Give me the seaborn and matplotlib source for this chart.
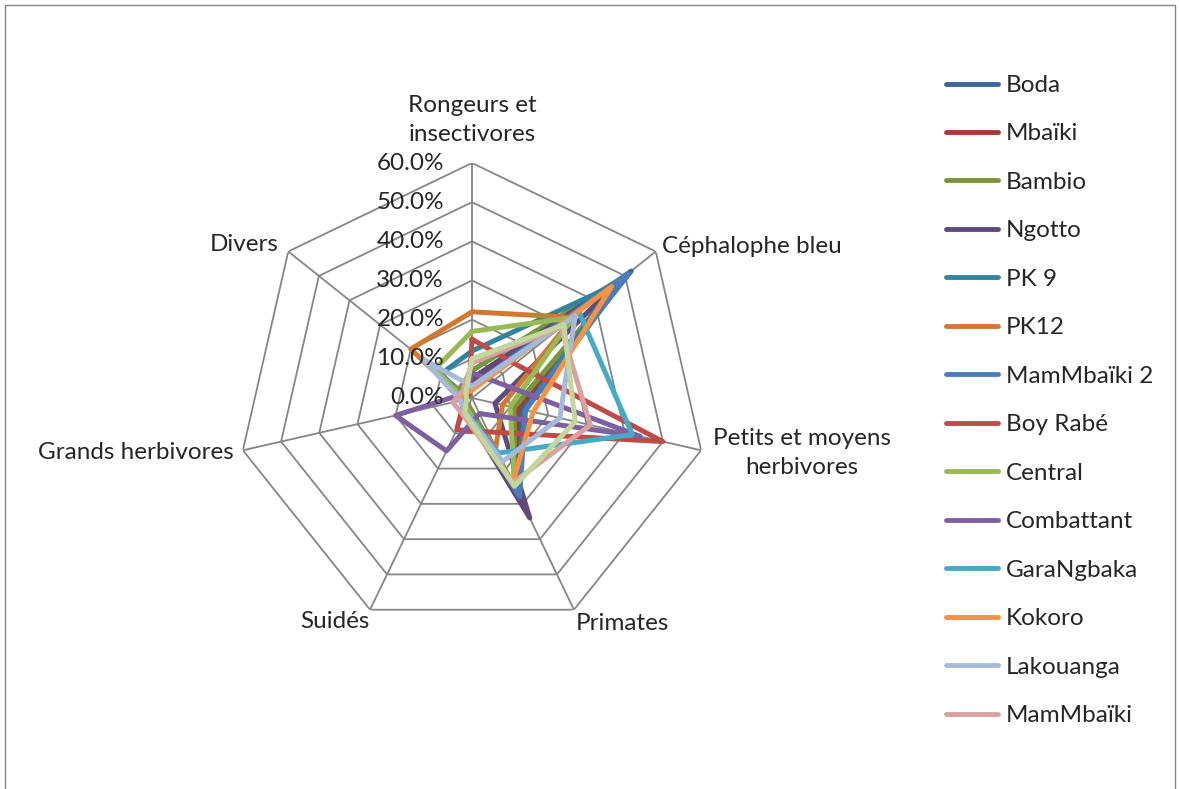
import numpy as np
import pandas as pd
import seaborn as sns
import matplotlib.pyplot as plt
from matplotlib.lines import Line2D
from matplotlib.patches import Rectangle
from matplotlib.transforms import offset_copy

# Radar chart data (share of each prey group per site, in %)
categories = ['Rongeurs et\ninsectivores', 'Céphalophe bleu', 'Petits et moyens\nherbivores',
              'Primates', 'Suidés', 'Grands herbivores', 'Divers']
sites = ['Boda', 'Mbaïki', 'Bambio', 'Ngotto', 'PK 9', 'PK12', 'MamMbaïki 2', 'Boy Rabé',
         'Central', 'Combattant', 'GaraNgbaka', 'Kokoro', 'Lakouanga', 'MamMbaïki', 'Autre']
boda = [3, 52, 13, 28, 3, 2, 2]
mbaiki = [4, 48, 12, 25, 3, 2, 3]
bambio = [7, 50, 11, 25, 2, 2, 4]
ngotto = [5, 49, 6, 34, 4, 3, 3]
pk9 = [12, 46, 14, 26, 3, 2, 10]
pk12 = [22, 33, 8, 14, 4, 2, 20]
mam_mbaiki2 = [3, 51, 14, 28, 3, 2, 2]
boy_rabe = [15, 14, 50, 9.6, 9, 2, 1]
central = [17, 33, 10, 25, 3, 2, 12]
combattant = [6.4, 7, 44, 4.4, 15, 20, 2]
gara_ngbaka = [3, 35, 42, 15.6, 4, 2, 3]
kokoro = [2, 45.6, 16, 24, 4, 3, 2]
lakouanga = [3, 33.7, 23, 18, 4, 3, 16]
mam_mbaiki = [9, 29, 31, 24, 5, 5, 3]
autre = [10, 30, 27, 25, 4.3, 1.4, 2]
ticks = [0, 10, 20, 30, 40, 50, 60]

all_values = [boda, mbaiki, bambio, ngotto, pk9, pk12, mam_mbaiki2, boy_rabe,
              central, combattant, gara_ngbaka, kokoro, lakouanga, mam_mbaiki, autre]
colors = ['#3C6796', '#A23C3A', '#78973D', '#604A7B', '#31849B', '#D2782F',
          '#4A7EBB', '#BE4B48', '#98B954', '#7D60A0', '#46AAC5', '#F69240',
          '#A7B9D8', '#D8A2A0', '#C3D69B']

sns.set_theme(style='white')
plt.rcParams['font.family'] = ['Lato', 'DejaVu Sans']
FS = 17.5

n = len(categories)
angles = np.linspace(0, 2 * np.pi, n, endpoint=False)

# long table, each polygon closed by repeating the first point
rows = []
for site, vals in zip(sites, all_values):
    for k in list(range(n)) + [0]:
        rows.append({'site': site, 'theta': angles[k], 'value': vals[k]})
df = pd.DataFrame(rows)

W, H = 1179, 789
fig = plt.figure(figsize=(W / 100, H / 100), dpi=100)
fig.patch.set_facecolor('white')
fig.patches.append(Rectangle((5 / W, -0.1), 1170 / W, 1.1 - 5 / H, transform=fig.transFigure,
                             fill=False, edgecolor='#868686', lw=1))

ax = fig.add_axes([(472 - 235) / W, (H - 398 - 235) / H, 470 / W, 470 / H], projection='polar')
ax.set_theta_offset(np.pi / 2)
ax.set_theta_direction(-1)
ax.set_ylim(0, 60)
ax.grid(False)
ax.set_xticks([])
ax.set_yticks([])
ax.spines['polar'].set_visible(False)
ax.patch.set_alpha(0)

# heptagon gridlines and spokes
ring_theta = np.append(angles, angles[0])
for t in ticks[1:]:
    ax.plot(ring_theta, [t] * (n + 1), color='#868686', lw=1.3, zorder=1)
for a in angles:
    ax.plot([a, a], [0, 60], color='#868686', lw=1.3, zorder=1)

sns.lineplot(data=df, x='theta', y='value', hue='site', hue_order=sites, palette=colors,
             sort=False, estimator=None, lw=3.6, legend=False, ax=ax, zorder=3)
ax.set_xlabel('')
ax.set_ylabel('')

# radial tick labels
tick_tr = offset_copy(ax.transData, fig=fig, x=-28, y=0, units='dots')
for t in ticks:
    ax.text(0, t, f'{t:.1f}%', transform=tick_tr, ha='right', va='center', fontsize=FS)

# category labels
label_pos = [(64.5, 'center', 'bottom'), (62, 'left', 'center'), (63, 'left', 'center'),
             (61, 'left', 'top'), (60.5, 'right', 'top'), (62.5, 'right', 'center'),
             (63, 'right', 'center')]
for a, lab, (r, ha, va) in zip(angles, categories, label_pos):
    ax.text(a, r, lab, ha=ha, va=va, multialignment='center', fontsize=FS, linespacing=1.5)

handles = [Line2D([], [], color=c, lw=3.5, solid_capstyle='round') for c in colors[:14]]
fig.legend(handles, sites[:14], loc='upper left', bbox_to_anchor=(946 / W, 1 - 75 / H),
           frameon=False, fontsize=FS, handlelength=2.15, handletextpad=0.3,
           labelspacing=1.13, borderpad=0, borderaxespad=0)

fig.savefig('out.png', dpi=100)
